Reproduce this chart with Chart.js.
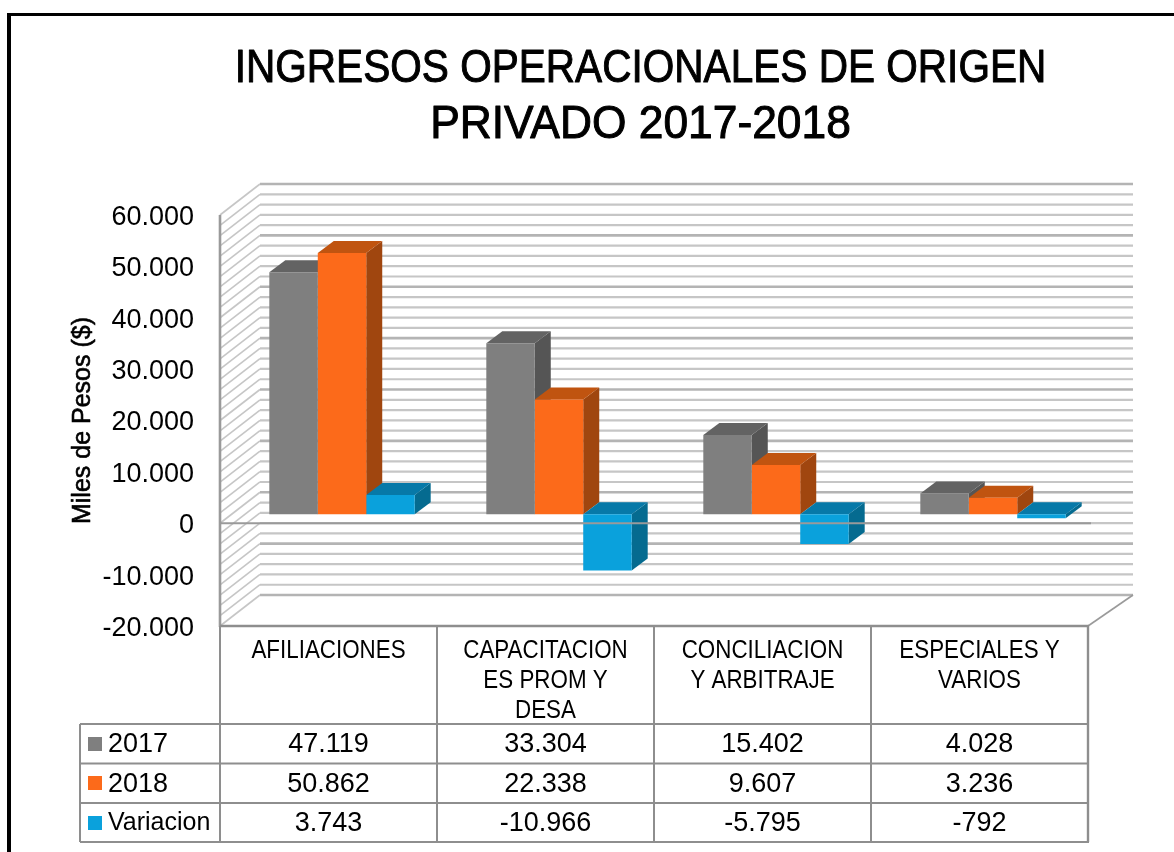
<!DOCTYPE html>
<html><head><meta charset="utf-8">
<style>html,body{margin:0;padding:0;background:#fff}canvas{display:block}</style>
<script src="https://cdn.jsdelivr.net/npm/chart.js@4"></script>
</head><body>
<div style="width:1174px;height:852px"><canvas id="c" width="1174" height="852"></canvas></div>
<script>
const titleLines = ['INGRESOS OPERACIONALES DE ORIGEN', 'PRIVADO 2017-2018'];
const categories = ['AFILIACIONES', ['CAPACITACION','ES PROM Y','DESA'], ['CONCILIACION','Y ARBITRAJE'], ['ESPECIALES Y','VARIOS']];
const seriesNames = ['2017', '2018', 'Variacion'];
const values2017 = [47119, 33304, 15402, 4028];
const values2018 = [50862, 22338, 9607, 3236];
const valuesVariacion = [3743, -10966, -5795, -792];
const frontColors = ['#7f7f7f', '#fc6a1a', '#0aa1dc'];
const topColors = ['#636363', '#c05410', '#0779a8'];
const sideColors = ['#555555', '#a0460f', '#056b90'];

const SANS = '"Liberation Sans",Arial,sans-serif';
const GRID = '#c6c6c6', AXIS = '#9a9a9a', TABLE = '#8e8e8e';
const WALL = {dx: 40, dy: -31};     // depth of the chart box
const BAR = {dx: 13.5, dy: -9};     // where the bars sit inside the box
const DEPTH = {dx: 16, dy: -12};    // depth of each bar
const TITLE_SQUEEZE = [0.882, 0.964], LABEL_SQUEEZE = 0.895;
const TITLE_CENTER = 640.5;
const fmt = v => {
  const s = Math.abs(v).toString().replace(/\B(?=(\d{3})+$)/g, '.');
  return (v < 0 ? '-' : '') + s;
};
const rows = [values2017, values2018, valuesVariacion];
const rowY = [724, 763.5, 803, 842];
const tableLeft = 80;

function poly(ctx, pts, fill) {
  ctx.beginPath();
  pts.forEach((p, i) => i ? ctx.lineTo(p[0], p[1]) : ctx.moveTo(p[0], p[1]));
  ctx.closePath(); ctx.fillStyle = fill; ctx.fill();
}
function line(ctx, x1, y1, x2, y2, color, w) {
  ctx.beginPath(); ctx.moveTo(x1, y1); ctx.lineTo(x2, y2);
  ctx.strokeStyle = color; ctx.lineWidth = w; ctx.stroke();
}
// runs a native text drawing with every glyph slightly thickened
function heavier(ctx, width, fn, squeeze) {
  const fill = ctx.fillText;
  ctx.fillText = function (text, x, y) {
    ctx.save();
    ctx.translate(x, y);
    ctx.scale(squeeze ? squeeze(text) : 1, 1);
    fill.call(ctx, text, 0, 0);
    ctx.strokeStyle = '#000'; ctx.lineWidth = width; ctx.lineJoin = 'round';
    ctx.strokeText(text, 0, 0);
    ctx.restore();
  };
  fn();
  delete ctx.fillText;
}

const box3d = {
  id: 'box3d',
  afterLayout(chart) {
    // native title, each line squeezed sideways around the centre for the condensed look
    const tb = chart.titleBlock;
    tb.left = TITLE_CENTER - 500; tb.right = TITLE_CENTER + 500;
    if (!tb._wrapped) {
      const draw = tb.draw;
      tb.draw = function () {
        const ctx = this.ctx;
        ctx.save();
        ctx.translate(0, 3);
        heavier(ctx, 1, () => draw.call(this), t => TITLE_SQUEEZE[titleLines.indexOf(t)]);
        ctx.restore();
      };
      tb._wrapped = true;
    }
    // native x tick items, each squeezed around its own anchor
    const x = chart.scales.x;
    x.drawLabels = function (area) {
      const ctx = this.ctx;
      this.getLabelItems(area).forEach(item => {
        const [tx, ty] = item.options.translation;
        const lines = Array.isArray(item.label) ? item.label : [item.label];
        ctx.save();
        ctx.translate(tx, ty); ctx.scale(LABEL_SQUEEZE, 1);
        ctx.font = item.font.string; ctx.fillStyle = item.options.color || '#000';
        ctx.textAlign = 'center'; ctx.textBaseline = item.options.textBaseline;
        let yy = item.textOffset;
        lines.forEach(l => { ctx.fillText(l, 0, yy); yy += item.font.lineHeight; });
        ctx.restore();
      });
    };
    const y = chart.scales.y;
    if (!y._wrapped) {
      const labels = y.drawLabels, title = y.drawTitle;
      y.drawLabels = function (area) {
        this.ctx.save(); this.ctx.translate(0, 2.5);
        labels.call(this, area);
        this.ctx.restore();
      };
      y.drawTitle = function () {
        this.ctx.save();
        heavier(this.ctx, 0.6, () => title.call(this));
        this.ctx.restore();
      };
      y._wrapped = true;
    }
  },
  beforeDraw(chart) {
    const ctx = chart.ctx;
    ctx.save();
    ctx.fillStyle = '#fff'; ctx.fillRect(0, 0, 1174, 852);
    ctx.fillStyle = '#000';
    ctx.fillRect(7, 13, 1167, 3);
    ctx.fillRect(7, 13, 4, 839);
    ctx.restore();
  },
  beforeDatasetsDraw(chart) {
    const ctx = chart.ctx, y = chart.scales.y, a = chart.chartArea;
    ctx.save();
    // walls: side wall diagonals and back wall lines at every scale tick
    y.ticks.forEach(t => {
      const py = y.getPixelForValue(t.value);
      const by = py + WALL.dy;
      line(ctx, a.left, py, a.left + WALL.dx, by, GRID, 1.6);
      const major = t.value % 10000 === 0;
      line(ctx, a.left + WALL.dx, by, a.right + WALL.dx + 5, by, major ? '#b4b4b4' : GRID, major ? 2.6 : 2.2);
    });
    const bottom = y.getPixelForValue(-20000);
    line(ctx, a.right, bottom, a.right + WALL.dx + 5, bottom + WALL.dy, AXIS, 1.6);
    // hidden faces of every bar, left to right, behind the native fronts
    ctx.translate(BAR.dx, BAR.dy);
    const n = chart.data.labels.length;
    for (let i = 0; i < n; i++) {
      chart.data.datasets.forEach((ds, d) => {
        const el = chart.getDatasetMeta(d).data[i];
        const l = el.x - el.width / 2, r = el.x + el.width / 2;
        const t = Math.min(el.y, el.base), b = Math.max(el.y, el.base);
        poly(ctx, [[r, t], [r + DEPTH.dx, t + DEPTH.dy], [r + DEPTH.dx, b + DEPTH.dy], [r, b]], sideColors[d]);
        poly(ctx, [[l, t], [r, t], [r + DEPTH.dx, t + DEPTH.dy], [l + DEPTH.dx, t + DEPTH.dy]], topColors[d]);
      });
    }
    ctx.restore();
    // the native bars are drawn shifted into the box
    ctx.save();
    ctx.translate(BAR.dx, BAR.dy);
  },
  afterDatasetsDraw(chart) {
    chart.ctx.restore();
    const ctx = chart.ctx, y = chart.scales.y, x = chart.scales.x, a = chart.chartArea;
    ctx.save();
    // zero line runs in front of the bars that hang below it
    const zero = y.getPixelForValue(0);
    line(ctx, a.left, zero, a.right + 3, zero, AXIS, 2);
    // axis lines
    line(ctx, a.left, a.top, a.left, a.bottom + 1, AXIS, 2.6);
    // data table
    const bottom = rowY[3], count = chart.data.labels.length;
    line(ctx, a.left, a.bottom, a.right + 1, a.bottom, TABLE, 2.4);
    for (let i = 0; i <= count; i++) {
      const cx = a.left + (a.right - a.left) * i / count;
      line(ctx, cx, a.bottom, cx, bottom, TABLE, i === count ? 2.4 : 2);
    }
    rowY.forEach(ry => line(ctx, tableLeft, ry, a.right + 1, ry, TABLE, 2));
    line(ctx, tableLeft, rowY[0], tableLeft, bottom, TABLE, 2);
    ctx.textBaseline = 'middle';
    rows.forEach((vals, r) => {
      const cy = (rowY[r] + rowY[r + 1]) / 2;
      ctx.fillStyle = frontColors[r];
      ctx.fillRect(88, Math.round(cy) - 7, 14, 14);
      ctx.fillStyle = '#000';
      ctx.textAlign = 'left';
      ctx.font = (/^\d/.test(seriesNames[r]) ? 27 : 25) + 'px ' + SANS;
      ctx.fillText(seriesNames[r], 108, cy + 1);
      ctx.textAlign = 'center'; ctx.font = '27px ' + SANS;
      vals.forEach((v, i) => ctx.fillText(fmt(v), x.getPixelForValue(i), cy + 1));
    });
    ctx.restore();
  }
};

new Chart(document.getElementById('c'), {
  type: 'bar',
  data: {
    labels: categories,
    datasets: [
      {label: seriesNames[0], data: values2017, backgroundColor: frontColors[0]},
      {label: seriesNames[1], data: values2018, backgroundColor: frontColors[1]},
      {label: seriesNames[2], data: valuesVariacion, backgroundColor: frontColors[2]}
    ]
  },
  plugins: [box3d],
  options: {
    responsive: false, animation: false,
    layout: {padding: {top: 0, left: 0, right: 86, bottom: 0}},
    datasets: {bar: {categoryPercentage: 0.67, barPercentage: 1}},
    plugins: {
      legend: {display: false},
      tooltip: {enabled: false},
      title: {
        display: true,
        text: titleLines,
        color: '#000',
        font: {family: SANS, size: 46, weight: 'normal', lineHeight: 1.2174},
        padding: {top: 38, bottom: 65}
      }
    },
    scales: {
      x: {
        grid: {display: false}, border: {display: false},
        ticks: {color: '#000', font: {family: SANS, size: 25, lineHeight: 1.2}, padding: 2, maxRotation: 0, autoSkip: false},
        afterFit(s) { s.height = 226; }
      },
      y: {
        min: -20000, max: 60000,
        grid: {display: false}, border: {display: false},
        afterFit(s) { s.width = 220; },
        ticks: {
          stepSize: 2000, autoSkip: false, color: '#000', padding: 18,
          font: {family: SANS, size: 27},
          callback: v => v % 10000 === 0 ? fmt(v) : ''
        },
        title: {display: true, text: 'Miles de Pesos ($)', color: '#000', font: {family: SANS, size: 25, weight: 'normal'}, padding: {top: 68, bottom: 0}}
      }
    }
  }
});
</script>
</body></html>
